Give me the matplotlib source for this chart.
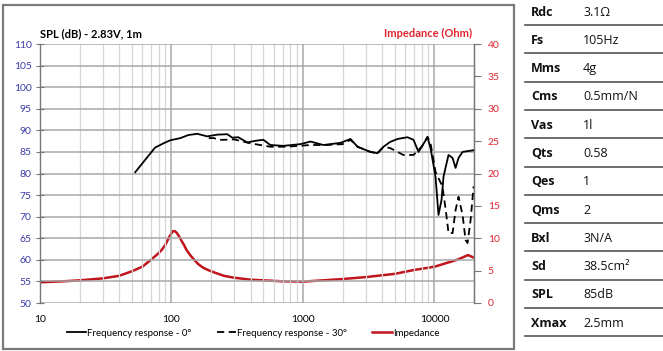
import matplotlib
matplotlib.use("Agg")
import matplotlib.pyplot as plt
from matplotlib.lines import Line2D
from matplotlib.patches import Rectangle
from matplotlib.ticker import FixedLocator, NullFormatter, LogLocator

plt.rcParams['font.family'] = ['Lato', 'DejaVu Sans']

# ---------------- data ----------------
f0 = [53, 75, 87, 98, 117, 134, 157, 187, 223, 266, 290, 322, 377, 440, 500, 565,
      709, 956, 1140, 1430, 1930, 2300, 2600, 3260, 3690, 4100, 4600, 5240, 6240, 6930,
      7570, 8860, 9340, 10190, 10740, 11330, 11730, 12800, 13740, 14480, 15250,
      16370, 18000, 20000]
spl0 = [80.3, 86.0, 87.0, 87.7, 88.2, 88.9, 89.2, 88.6, 89.0, 89.1, 88.3, 88.4,
        87.2, 87.6, 87.8, 86.6, 86.4, 86.8, 87.4, 86.6, 87.1, 88.0, 86.2, 85.0,
        84.7, 86.2, 87.3, 88.0, 88.4, 87.8, 85.0, 88.4, 85.9, 79.3, 70.4, 73.9, 79.3,
        84.3, 83.6, 81.3, 83.6, 85.0, 85.2, 85.4]

f30 = [192, 210, 230, 245, 300, 397, 565, 750, 1140, 1500, 2000, 2300, 2600, 3260,
       3690, 4100, 4600, 5800, 6930, 8000, 8860, 9340, 10190, 11500, 12200, 12800,
       13740, 14480, 15250, 16370, 17260, 17870, 18840, 19860]
spl30 = [88.2, 88.2, 87.8, 87.8, 87.9, 87.0, 86.2, 86.2, 86.6, 86.6, 86.8, 87.8,
         86.2, 85.0, 84.7, 86.2, 85.9, 84.3, 84.3, 86.2, 88.5, 87.0, 80.4, 77.0,
         71.5, 66.2, 66.2, 71.5, 74.6, 70.4, 64.6, 63.9, 69.2, 77.0]

fz = [10, 15, 20, 30, 40, 50, 60, 70, 80, 85, 90, 95, 100, 103, 106, 110, 115, 120,
      125, 130, 140, 150, 160, 170, 180, 200, 250, 300, 400, 500, 700, 1000, 2000,
      3000, 5000, 7000, 10000, 15000, 18000, 20000]
imp = [3.2, 3.35, 3.5, 3.8, 4.2, 4.9, 5.6, 6.7, 7.7, 8.3, 9.0, 10.0, 10.8, 11.1,
       11.1, 10.8, 10.2, 9.5, 8.9, 8.2, 7.3, 6.6, 6.0, 5.6, 5.3, 4.9, 4.2, 3.9, 3.6,
       3.5, 3.35, 3.3, 3.7, 4.0, 4.5, 5.1, 5.6, 6.7, 7.4, 7.0]

x_ticks = [10, 100, 1000, 10000]
x_labels = ["10", "100", "1000", "10000"]
y_left_ticks = list(range(50, 111, 5))
y_right_ticks = list(range(0, 41, 5))

spec_names = ["Rdc", "Fs", "Mms", "Cms", "Vas", "Qts", "Qes", "Qms", "Bxl", "Sd", "SPL", "Xmax"]
spec_values = ["3.1\u03a9", "105Hz", "4g", "0.5mm/N", "1l", "0.58", "1", "2", "3N/A",
               "38.5cm\u00b2", "85dB", "2.5mm"]

# ---------------- figure ----------------
W, H = 663, 351
fig = plt.figure(figsize=(W / 100, H / 100), dpi=100)

def fx(px):
    return px / W

def fy(py):
    return 1 - py / H

# outer frame
fig.patches.append(Rectangle((fx(3), fy(349)), (514 - 3) / W, (349 - 5) / H,
                             transform=fig.transFigure, fill=False,
                             edgecolor="#7a7a7a", linewidth=1.6))

ax = fig.add_axes([fx(40), fy(303), (474 - 40) / W, (303 - 44) / H])
ax.set_xscale("log")
ax.set_xlim(10, 20000)
ax.set_ylim(50, 110)

blue = "#3b3ba8"
red = "#e0252f"
dred = "#c0151c"

ax.set_yticks(y_left_ticks)
ax.set_yticklabels([str(v) for v in y_left_ticks], color=blue, fontsize=7.5)
ax.xaxis.set_major_locator(FixedLocator(x_ticks))
ax.set_xticklabels(x_labels, fontsize=7.5)
ax.xaxis.set_minor_locator(LogLocator(base=10, subs=range(2, 10)))
ax.xaxis.set_minor_formatter(NullFormatter())
ax.tick_params(axis="x", which="both", length=0, pad=9)
ax.tick_params(axis="y", which="major", direction="inout", length=6, color="#777777", pad=3)

ax.grid(True, which="major", axis="both", color="#a8a8a8", linewidth=1.1)
ax.grid(True, which="minor", axis="x", color="#d6d6d6", linewidth=0.9)
ax.set_axisbelow(True)
for s in ["top", "bottom"]:
    ax.spines[s].set_visible(False)
for s in ["left", "right"]:
    ax.spines[s].set_color("#777777")
    ax.spines[s].set_linewidth(1.0)

ax2 = ax.twinx()
ax2.set_ylim(0, 40)
ax2.set_yticks(y_right_ticks)
ax2.set_yticklabels([str(v) for v in y_right_ticks], color=red, fontsize=7.5)
ax2.tick_params(axis="y", direction="out", length=5, color="#777777", pad=5)
for s in ["top", "bottom", "left"]:
    ax2.spines[s].set_visible(False)
ax2.spines["right"].set_color("#777777")

l_imp, = ax2.plot(fz, imp, color=dred, linewidth=1.8, zorder=3)
l0, = ax.plot(f0, spl0, color="black", linewidth=1.3, zorder=5)
l30, = ax.plot(f30, spl30, color="black", linewidth=1.3, linestyle=(0, (4, 2.5)), zorder=4)
ax.set_zorder(ax2.get_zorder() + 1)
ax.patch.set_visible(False)

fig.text(fx(40), fy(37), "SPL (dB) - 2.83V, 1m", fontsize=8, fontweight="bold",
         ha="left", va="baseline", color="black")
fig.text(fx(472), fy(37), "Impedance (Ohm)", fontsize=8, fontweight="bold",
         ha="right", va="baseline", color=red)

handles = [Line2D([], [], color="black", linewidth=1.3),
           Line2D([], [], color="black", linewidth=1.3, linestyle=(0, (4, 2.5))),
           Line2D([], [], color=dred, linewidth=1.8)]
labels = ["Frequency response - 0\u00b0", "Frequency response - 30\u00b0", "Impedance"]
fig.legend(handles, labels, loc="center", bbox_to_anchor=(fx(253), fy(333)), ncol=3,
           frameon=False, fontsize=7, handlelength=2.0, handletextpad=0.1,
           columnspacing=2.6)

# spec table
for i, (n, v) in enumerate(zip(spec_names, spec_values)):
    yc = 12 + 28.3 * i
    fig.text(fx(531), fy(yc), n, fontsize=9, fontweight="bold", ha="left", va="center",
             family=["Open Sans", "DejaVu Sans"], color="#111111")
    fig.text(fx(583), fy(yc), v, fontsize=9, ha="left", va="center",
             family=["Open Sans", "DejaVu Sans"], color="#111111")
    yl = 25 + 28.3 * i
    fig.add_artist(Line2D([fx(525), fx(663)], [fy(yl), fy(yl)], color="#555555",
                          linewidth=1.2, transform=fig.transFigure))

fig.savefig("out.png", dpi=100)
